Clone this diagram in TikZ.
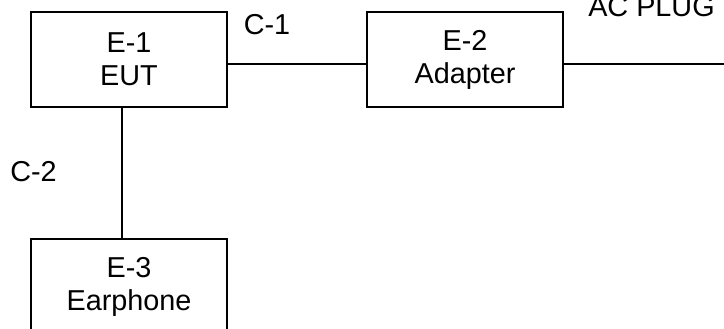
\documentclass[tikz,border=0pt]{standalone}
\usepackage{fontspec}
\setmainfont{Liberation Sans}
\usepackage{tikz}
\usetikzlibrary{positioning}

\begin{document}
\begin{tikzpicture}[
  unit/.style={rectangle, draw=black, line width=1pt, minimum width=98pt, minimum height=47.5pt, inner sep=0pt, align=center, font=\fontsize{14.4}{16.5}\selectfont},
  lbl/.style={inner sep=0pt, font=\fontsize{14.4}{16.5}\selectfont},
  cable/.style={line width=1pt, black},
]

\useasboundingbox (-64.5pt,29.75pt) rectangle (297.5pt,-134.25pt);

\node[unit] (eut) at (0,0) {E-1\\EUT};
\node[unit, right=69pt of eut] (adapter) {E-2\\Adapter};
\node[unit, below=65pt of eut] (earphone) {E-3\\Earphone};
\coordinate (plug) at (297.5pt,-2.25pt);

\node[lbl] (c1) at (69pt,17.25pt) {C-1};
\node[lbl] (c2) at (-47.75pt,-56.25pt) {C-2};
\node[lbl] (acplug) at (261.25pt,26.25pt) {AC PLUG};

\draw[cable] ([yshift=-2.25pt]eut.east) -- ([yshift=-2.25pt]adapter.west);
\draw[cable] ([yshift=-2.25pt]adapter.east) -- (plug);
\draw[cable] ([xshift=-3.5pt]eut.south) -- ([xshift=-3.5pt]earphone.north);

\end{tikzpicture}
\end{document}
